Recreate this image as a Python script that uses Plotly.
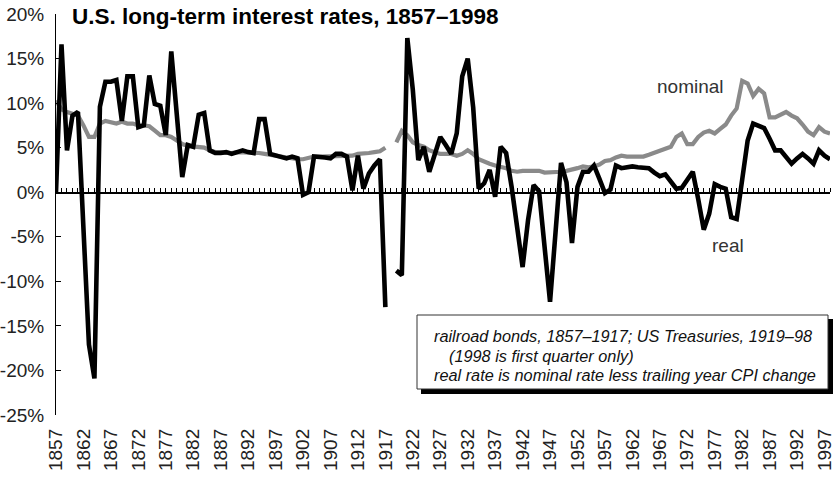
import plotly.graph_objects as go

# ---------------- data ----------------
years = list(range(1857, 1999))

real = [
    0.0, 16.6, 4.7, 8.6, 9.0, -4.0, -17.1, -20.9, 9.6, 12.4,          # 1857-1866
    12.4, 12.6, 8.0, 13.0, 13.0, 7.3, 7.5, 13.1, 9.9, 9.7,            # 1867-1876
    6.4, 15.8, 8.5, 1.7, 5.3, 5.1, 8.7, 8.9, 4.7, 4.4,                # 1877-1886
    4.4, 4.5, 4.3, 4.5, 4.7, 4.5, 4.4, 8.2, 8.2, 4.3,                 # 1887-1896
    4.1, 3.9, 3.8, 4.0, 3.8, -0.3, 0.0, 4.0, 4.0, 3.9,                # 1897-1906
    3.8, 4.3, 4.3, 4.0, 0.2, 4.1, 0.4, 2.1, 3.0, 3.7,                 # 1907-1916
    -12.9, None, -8.8, -9.3, 17.3, 11.5, 3.6, 5.1, 2.3, 4.2,          # 1917-1926
    6.2, 5.3, 4.3, 6.6, 13.0, 15.0, 9.5, 0.4, 1.0, 2.5,               # 1927-1936
    -0.5, 5.1, 4.4, 0.6, -4.2, -8.4, -3.1, 0.8, 0.1, -6.0,            # 1937-1946
    -12.3, -4.5, 3.3, 1.1, -5.7, 0.6, 2.3, 2.3, 3.0, 1.5,             # 1947-1956
    -0.1, 0.3, 3.0, 2.7, 2.8, 2.9, 2.8, 2.7, 2.7, 2.2,                # 1957-1966
    1.8, 2.0, 1.2, 0.4, 0.5, 1.4, 2.3, -0.8, -4.2, -2.4,              # 1967-1976
    0.9, 0.6, 0.4, -2.8, -3.0, 1.4, 5.8, 7.7, 7.5, 7.2,               # 1977-1986
    6.0, 4.7, 4.7, 3.9, 3.2, 3.8, 4.3, 3.8, 3.2, 4.7,                 # 1987-1996
    4.1, 3.7,                                                         # 1997-1998
]

nominal = [
    10.3, 9.3, 9.0, 8.8, 8.6, 7.5, 6.2, 6.2, 7.7, 8.0,                # 1857-1866
    7.9, 7.7, 7.9, 7.7, 7.7, 7.5, 7.5, 7.4, 6.9, 6.4,                 # 1867-1876
    6.4, 6.2, 5.8, 5.4, 5.2, 5.1, 5.1, 5.0, 4.7, 4.5,                 # 1877-1886
    4.5, 4.4, 4.4, 4.5, 4.5, 4.5, 4.4, 4.4, 4.3, 4.2,                 # 1887-1896
    4.1, 3.9, 3.8, 3.8, 3.7, 3.7, 3.9, 4.0, 4.0, 4.0,                 # 1897-1906
    4.0, 4.0, 4.1, 4.1, 4.1, 4.3, 4.3, 4.4, 4.5, 4.6,                 # 1907-1916
    5.0, None, 5.6, 6.9, 6.4, 5.6, 5.3, 5.1, 4.7, 4.5,                # 1917-1926
    4.3, 4.3, 4.3, 4.1, 4.3, 4.7, 4.3, 3.7, 3.4, 3.2,                 # 1927-1936
    3.0, 2.9, 2.7, 2.4, 2.3, 2.4, 2.4, 2.4, 2.4, 2.2,                 # 1937-1946
    2.2, 2.2, 2.3, 2.4, 2.5, 2.7, 2.9, 2.8, 2.9, 3.1,                 # 1947-1956
    3.5, 3.6, 3.9, 4.1, 4.0, 4.0, 4.0, 4.0, 4.2, 4.4,                 # 1957-1966
    4.7, 4.9, 5.1, 6.2, 6.6, 5.4, 5.4, 6.2, 6.7, 6.9,                 # 1967-1976
    6.6, 7.1, 7.6, 8.6, 9.4, 12.5, 12.2, 10.8, 11.6, 11.1,            # 1977-1986
    8.4, 8.4, 8.7, 9.0, 8.6, 8.3, 7.6, 6.8, 6.4, 7.3,                 # 1987-1996
    6.8, 6.6,                                                         # 1997-1998
]

y_ticks = [-25, -20, -15, -10, -5, 0, 5, 10, 15, 20]
y_tick_labels = ["-25%", "-20%", "-15%", "-10%", "-5%", "0%", "5%", "10%", "15%", "20%"]
x_ticks = list(range(1857, 1998, 5))
x_tick_labels = [str(y) for y in x_ticks]

title_text = "U.S. long-term interest rates, 1857\u20131998"
note_lines = [
    "railroad bonds, 1857\u20131917; US Treasuries, 1919\u201398",
    "(1998 is first quarter only)",
    "real rate is nominal rate less trailing year CPI change",
]

# ---------------- geometry (page pixels -> paper) ----------------
W, H = 840, 478
ML, MR, MT, MB = 56, 10, 14, 63
PW, PH = W - ML - MR, H - MT - MB


def px(x):
    return (x - ML) / PW


def py(y):
    return (H - MB - y) / PH


FONT = "Liberation Sans, Arial, Helvetica, sans-serif"

fig = go.Figure()

fig.add_trace(go.Scatter(
    x=years, y=nominal, mode="lines", name="nominal",
    line=dict(color="#8a8a8a", width=4.2), connectgaps=False,
    xaxis="x", yaxis="y", hoverinfo="skip", showlegend=False,
))
fig.add_trace(go.Scatter(
    x=years, y=real, mode="lines", name="real",
    line=dict(color="#000000", width=4.6), connectgaps=False,
    xaxis="x2", yaxis="y", hoverinfo="skip", showlegend=False,
))

zero_pos = (0 - y_ticks[0]) / (y_ticks[-1] - y_ticks[0])

fig.update_layout(
    width=W, height=H,
    margin=dict(l=ML, r=MR, t=MT, b=MB, pad=0),
    paper_bgcolor="white", plot_bgcolor="white",
    font=dict(family=FONT, color="#222222"),
    xaxis=dict(
        range=[years[0], years[-1]], showgrid=False, zeroline=False,
        showline=False, ticks="", tickmode="array",
        tickvals=x_ticks, ticktext=x_tick_labels, tickangle=-90,
        tickfont=dict(size=19, color="#222222", family=FONT),
        ticklabelstandoff=9, automargin=False, fixedrange=True,
    ),
    xaxis2=dict(
        range=[years[0], years[-1]], overlaying="x", anchor="free",
        position=zero_pos, side="top", showgrid=False, zeroline=False,
        showline=True, linecolor="black", linewidth=1.5,
        ticks="outside", ticklen=4, tickwidth=1, tickcolor="black",
        tickmode="linear", tick0=years[0], dtick=1,
        showticklabels=False, automargin=False, fixedrange=True,
    ),
    yaxis=dict(
        range=[y_ticks[0], y_ticks[-1]], showgrid=False, zeroline=False,
        showline=True, linecolor="black", linewidth=1,
        ticks="inside", ticklen=5, tickwidth=1, tickcolor="black",
        tickmode="array", tickvals=y_ticks, ticktext=y_tick_labels,
        tickfont=dict(size=19, color="#222222", family=FONT),
        ticklabelstandoff=7, automargin=False, fixedrange=True,
    ),
    showlegend=False,
)

# note box: shadow + white box
fig.add_shape(type="rect", xref="paper", yref="paper",
              x0=px(421), x1=px(833), y0=py(394), y1=py(319),
              fillcolor="black", line=dict(width=0), layer="above")
fig.add_shape(type="rect", xref="paper", yref="paper",
              x0=px(417), x1=px(828), y0=py(389), y1=py(315),
              fillcolor="white", line=dict(color="#333333", width=1), layer="above")

annotations = [
    dict(text="<b>" + title_text + "</b>", x=px(70), y=py(16), xref="paper", yref="paper",
         xanchor="left", yanchor="middle", showarrow=False,
         font=dict(size=22.5, color="black", family=FONT)),
    dict(text="nominal", x=px(690), y=py(86), xref="paper", yref="paper",
         xanchor="center", yanchor="middle", showarrow=False,
         font=dict(size=19, color="#333333", family=FONT)),
    dict(text="real", x=px(728), y=py(246), xref="paper", yref="paper",
         xanchor="center", yanchor="middle", showarrow=False,
         font=dict(size=19, color="#333333", family=FONT)),
    dict(text="<i>" + note_lines[0] + "</i>", x=px(432), y=py(336), xref="paper", yref="paper",
         xanchor="left", yanchor="middle", showarrow=False,
         font=dict(size=16.3, color="#111111", family=FONT)),
    dict(text="<i>" + note_lines[1] + "</i>", x=px(447), y=py(356), xref="paper", yref="paper",
         xanchor="left", yanchor="middle", showarrow=False,
         font=dict(size=16.3, color="#111111", family=FONT)),
    dict(text="<i>" + note_lines[2] + "</i>", x=px(432), y=py(375), xref="paper", yref="paper",
         xanchor="left", yanchor="middle", showarrow=False,
         font=dict(size=16.3, color="#111111", family=FONT)),
]
fig.update_layout(annotations=annotations)

# remove the default 8px page margin so the 840x478 figure fills the window
fig.write_html(
    "out.html",
    config={"displayModeBar": False, "staticPlot": True},
    post_script="document.body.style.margin='0px';",
)
